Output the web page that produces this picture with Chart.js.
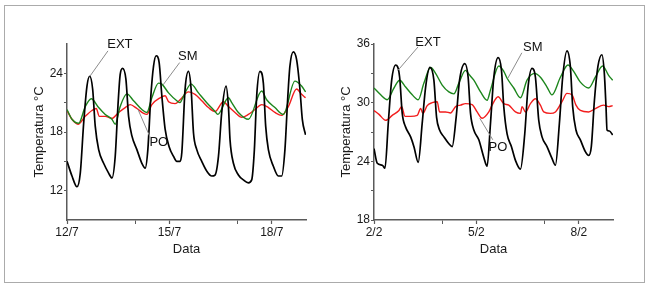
<!DOCTYPE html>
<html><head><meta charset="utf-8">
<script src="https://cdn.jsdelivr.net/npm/chart.js@4/dist/chart.umd.min.js"></script>
<style>
html,body{margin:0;padding:0;background:#fff;width:650px;height:285px;overflow:hidden;}
#frame{position:absolute;left:4px;top:5px;width:639px;height:276px;border:1px solid #ababab;}
.box{position:absolute;top:10px;width:310px;height:260px;}
</style></head><body>
<div id="frame"></div>
<div class="box" style="left:10px"><canvas id="c1"></canvas></div>
<div class="box" style="left:317px"><canvas id="c2"></canvas></div>
<script>
// ---------- July panel (days since 12/7) ----------
const julyLabels = ['12/7','15/7','18/7'];
const febLabels  = ['2/2','5/2','8/2'];
const labelDays  = [0,3,6];
const minorDays  = [2,5];

const julyExtDays = [0,0.146,0.292,0.389,0.488,0.585,0.664,0.751,0.827,0.927,1.073,1.219,1.316,1.412,1.491,1.558,1.629,1.725,1.804,1.901,2.047,2.193,2.289,2.368,2.456,2.535,2.611,2.699,2.778,2.874,2.991,3.120,3.216,3.313,3.363,3.459,3.558,3.635,3.705,3.801,3.947,4.094,4.240,4.336,4.436,4.532,4.658,4.728,4.775,4.874,5.020,5.167,5.313,5.409,5.488,5.556,5.652,5.751,5.819,5.898,6.044,6.190,6.287,6.383,6.462,6.529,6.629,6.725,6.822,6.892,6.988];
const julyExtTemp = [15.0,13.5,12.4,13.8,18.9,22.7,23.7,22.4,18.6,16.2,14.8,13.8,13.3,15.5,20.6,23.9,24.5,23.4,19.6,17.6,16.2,14.8,14.3,16.2,21.7,24.75,25.8,25.1,21.7,18.3,16.5,15.5,15.0,15.0,15.9,22.4,24.2,22.4,17.9,16.2,15.0,14.0,13.5,13.6,15.5,20.0,22.7,20.6,17.2,14.8,13.6,13.1,12.8,13.1,16.2,21.7,24.2,23.0,18.6,16.2,14.5,13.5,13.5,16.2,21.3,24.75,26.2,25.4,22.4,19.3,17.7];

const julySmDays = [0,0.146,0.342,0.535,0.711,0.927,1.12,1.316,1.412,1.558,1.754,1.95,2.193,2.339,2.485,2.681,2.778,2.974,3.216,3.313,3.363,3.635,3.851,4.094,4.336,4.415,4.728,4.825,5.02,5.313,5.702,5.848,6.09,6.336,6.675,6.871,6.988];
const julySmTemp = [20.3,19.3,18.9,20.6,21.4,20.5,19.8,19.3,18.8,20.6,21.9,21.2,20.3,20.0,21.5,23.0,22.9,22.0,21.2,21.0,21.3,22.9,22.0,21.0,20.1,19.8,21.5,21.0,20.0,19.3,22.2,21.3,20.5,19.8,23.2,22.7,22.1];

const julyPoDays = [0,0.146,0.322,0.535,0.731,0.857,0.945,1.12,1.316,1.512,1.705,1.851,2.047,2.243,2.339,2.485,2.728,2.874,2.974,3.167,3.313,3.558,3.751,3.947,4.143,4.336,4.582,4.728,4.921,5.117,5.313,5.506,5.702,5.898,6.09,6.287,6.482,6.725,6.871,6.988];
const julyPoTemp = [20.2,19.3,18.8,19.6,20.2,20.4,19.6,19.6,19.4,20.0,20.5,20.8,20.4,19.9,19.8,20.8,21.5,21.7,21.1,20.9,21.3,22.1,21.85,21.2,20.5,20.1,21.1,20.6,20.0,19.5,19.8,20.3,20.8,20.5,20.0,19.7,20.6,22.4,21.85,21.5];

// ---------- February panel (days since 2/2) ----------
const febExtDays = [0,0.096,0.243,0.322,0.418,0.518,0.635,0.751,0.827,0.927,1.073,1.170,1.295,1.412,1.512,1.637,1.754,1.833,1.921,2.047,2.193,2.289,2.406,2.506,2.661,2.757,2.827,2.924,3.070,3.216,3.313,3.412,3.509,3.635,3.734,3.801,3.898,4.026,4.143,4.289,4.415,4.512,4.629,4.728,4.825,4.921,5.067,5.213,5.313,5.430,5.526,5.652,5.751,5.819,5.915,6.044,6.190,6.287,6.365,6.456,6.558,6.675,6.746,6.795,6.825,6.895,6.99];
const febExtTemp = [25.3,23.8,23.6,23.3,27.9,32.3,33.85,32.6,28.9,27.5,26.5,25.5,23.9,27.9,31.6,33.6,32.3,28.5,27.2,26.5,25.8,25.5,28.5,32.3,34.0,32.6,28.9,27.2,26.2,24.4,23.5,27.9,32.6,34.6,33.3,29.6,26.8,25.5,24.1,23.2,26.8,31.6,33.5,32.6,28.2,26.5,25.5,24.3,23.6,27.9,32.6,35.3,33.7,29.6,27.2,26.2,25.0,24.6,25.5,30.25,33.7,34.9,33.0,29.6,27.2,27.1,26.7];

const febSmDays = [0,0.196,0.389,0.585,0.751,0.927,1.12,1.295,1.462,1.658,1.804,1.997,2.193,2.339,2.485,2.681,2.778,2.924,3.12,3.313,3.412,3.655,3.801,3.898,4.094,4.289,4.482,4.708,4.874,5.067,5.213,5.459,5.681,5.848,6.044,6.287,6.482,6.696,6.871,6.99];
const febSmTemp = [31.5,30.8,30.3,31.5,32.3,31.6,30.8,30.3,32.0,33.6,33.0,31.8,31.1,30.9,32.0,33.3,32.9,32.3,31.1,30.25,31.3,33.75,33.2,32.5,31.5,30.5,32.3,33.0,32.6,31.6,30.8,32.6,33.85,33.2,32.1,31.5,32.6,33.75,32.8,32.3];

const febPoDays = [0,0.146,0.342,0.535,0.731,0.81,0.906,1.073,1.266,1.366,1.433,1.558,1.705,1.851,1.921,2.096,2.243,2.389,2.535,2.681,2.874,3.02,3.167,3.363,3.459,3.635,3.801,3.947,4.143,4.289,4.336,4.436,4.582,4.728,4.874,4.971,5.167,5.313,5.506,5.652,5.798,5.915,6.044,6.287,6.482,6.725,6.871,6.99];
const febPoTemp = [29.2,28.8,28.2,28.7,29.2,29.6,28.6,28.6,28.7,29.4,28.9,29.7,30.0,30.1,29.05,29.05,28.95,29.6,29.75,29.9,29.8,29.05,28.4,29.05,29.75,30.6,29.9,29.75,29.05,28.9,29.6,29.05,29.9,30.4,29.75,29.05,28.9,29.05,30.1,30.95,30.8,29.75,29.2,29.05,29.4,29.75,29.6,29.7];

const julyYMajor = [12,18,24], julyYMinor = [15,21];
const febYMajor = [18,24,30,36], febYMinor = [21,27,33];

const FONT = '"Liberation Sans", Arial, Helvetica, sans-serif';

const notePlugin = {
  id: 'notes',
  afterDatasetsDraw(chart, args, opts) {
    const {ctx} = chart; const x = chart.scales.x, y = chart.scales.y;
    ctx.save();
    ctx.strokeStyle = '#8c8c8c'; ctx.lineWidth = 1;
    ctx.font = '13px ' + FONT;
    ctx.fillStyle = '#111'; ctx.textAlign = 'center'; ctx.textBaseline = 'middle';
    (opts.items || []).forEach(n => {
      ctx.beginPath();
      ctx.moveTo(x.getPixelForValue(n.from[0]), y.getPixelForValue(n.from[1]));
      ctx.lineTo(x.getPixelForValue(n.to[0]), y.getPixelForValue(n.to[1]));
      ctx.stroke();
      ctx.fillText(n.text, x.getPixelForValue(n.at[0]), y.getPixelForValue(n.at[1]));
    });
    ctx.restore();
  }
};

function pts(days, temps) { return days.map((d, i) => ({x: d, y: temps[i]})); }

function makeChart(id, ext, sm, po, yMin, yMax, yMajor, yMinor, xLabels, notes) {
  const line = (label, data, color, w) => ({label, data, borderColor: color, borderWidth: w,
    pointRadius: 0, fill: false, cubicInterpolationMode: 'monotone'});
  const axisColor = '#5a5a5a';
  new Chart(document.getElementById(id), {
    type: 'line',
    data: { datasets: [
      line('EXT', ext, '#000000', 1.7),
      line('SM', sm, '#1c861c', 1.4),
      line('PO', po, '#f21d1d', 1.4)
    ]},
    options: {
      responsive: true, maintainAspectRatio: false, animation: false,
      layout: { padding: { top: 34, right: 14, left: 0, bottom: 0 } },
      plugins: { legend: {display: false}, tooltip: {enabled: false}, notes: {items: notes} },
      scales: {
        x: {
          type: 'linear', min: 0, max: 7,
          afterBuildTicks: s => { s.ticks = labelDays.concat(minorDays).sort((a,b)=>a-b).map(v => ({value: v})); },
          afterFit: s => { s.height = 50; },
          grid: { drawOnChartArea: false, drawTicks: true, tickLength: 4, color: axisColor,
                  tickWidth: c => labelDays.includes(c.tick && c.tick.value) ? 1.2 : 1 },
          border: { color: axisColor, width: 1.5 },
          ticks: { autoSkip: false, maxRotation: 0, padding: 1, color: '#1a1a1a',
                   font: {family: FONT, size: 12},
                   callback: v => { const i = labelDays.indexOf(v); return i >= 0 ? xLabels[i] : ''; } },
          title: { display: true, text: 'Data', color: '#1a1a1a', font: {family: FONT, size: 13},
                   padding: {top: 0, bottom: 13} }
        },
        y: {
          type: 'linear', min: yMin, max: yMax,
          afterBuildTicks: s => { s.ticks = yMajor.concat(yMinor).sort((a,b)=>a-b).map(v => ({value: v})); },
          afterFit: s => { s.width = 57; },
          grid: { drawOnChartArea: false, drawTicks: true, tickLength: 3, color: axisColor },
          border: { color: axisColor, width: 1.5 },
          ticks: { padding: 1, color: '#1a1a1a', font: {family: FONT, size: 12},
                   callback: v => yMajor.includes(v) ? String(v) : '' },
          title: { display: true, text: 'Temperatura °C', color: '#1a1a1a', font: {family: FONT, size: 13},
                   padding: {top: 22, bottom: 0} }
        }
      }
    },
    plugins: [notePlugin]
  });
}

makeChart('c1', pts(julyExtDays, julyExtTemp), pts(julySmDays, julySmTemp), pts(julyPoDays, julyPoTemp),
  9, 27, julyYMajor, julyYMinor, julyLabels, [
    {text: 'EXT', at: [1.55, 27.0], from: [1.2, 26.3], to: [0.67, 23.7]},
    {text: 'SM',  at: [3.54, 25.7], from: [3.3, 25.1], to: [2.81, 22.8]},
    {text: 'PO',  at: [2.69, 16.9], from: [2.43, 17.5], to: [2.08, 20.3]}
  ]);
makeChart('c2', pts(febExtDays, febExtTemp), pts(febSmDays, febSmTemp), pts(febPoDays, febPoTemp),
  18, 36, febYMajor, febYMinor, febLabels, [
    {text: 'EXT', at: [1.58, 36.2], from: [1.29, 35.7], to: [0.70, 33.3]},
    {text: 'SM',  at: [4.65, 35.7], from: [4.33, 35.1], to: [3.92, 32.5]},
    {text: 'PO',  at: [3.63, 25.4], from: [3.48, 26.2], to: [3.10, 28.4]}
  ]);
</script>
</body></html>
